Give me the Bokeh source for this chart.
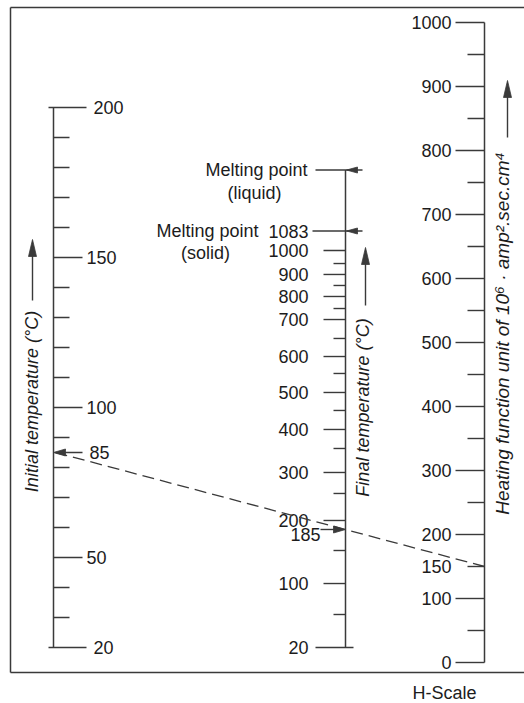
import numpy as np
from bokeh.plotting import figure
from bokeh.models import Range1d, ColumnDataSource
from bokeh.embed import file_html
from bokeh.resources import INLINE
from bokeh.core.properties import value

# ---------------- data ----------------
# Initial temperature scale (deg C), linear
INIT_TICKS = list(range(20, 201, 10))
INIT_LABELS = [20, 50, 100, 150, 200]
INIT_MARK = 85

# Final temperature scale (deg C): tick values and the heating-function level
# they line up with (read from the picture)
FINAL_TICKS = [20, 50, 100, 150, 200, 250, 300, 350, 400, 450, 500,
               550, 600, 650, 700, 750, 800, 850, 900, 950, 1000]
FINAL_LEVEL = [23.4, 75.0, 123.4, 175.0, 221.9, 264.1, 296.9, 334.4, 364.1, 393.8, 421.9,
               451.6, 478.1, 506.3, 535.9, 553.1, 571.9, 589.1, 606.3, 623.4, 643.8]
FINAL_LABELS = [20, 100, 200, 300, 400, 500, 600, 700, 800, 900, 1000]
FINAL_SOLID = 1083
FINAL_SOLID_LEVEL = 674.2
FINAL_LIQUID_LEVEL = 769.5
FINAL_MARK = 185

# H scale (10^6 amp^2 sec cm^4), linear
H_TICKS = list(range(0, 1001, 50))
H_LABELS = [0, 100, 150, 200, 300, 400, 500, 600, 700, 800, 900, 1000]
H_MARK = 150

# ---------------- layout ----------------
W, HGT = 524, 703
PXU = 0.64          # pixels per H unit
H0_PAGE_Y = 662     # picture y of H = 0


def u(py):
    """picture pixel y -> H units"""
    return (H0_PAGE_Y - py) / PXU


def px(d):
    """vertical pixel distance -> H units"""
    return d / PXU


XI, XF, XH = 53, 345, 484
INIT_LO, INIT_HI = u(647), u(107)


def init_level(t):
    return INIT_LO + (np.asarray(t, dtype=float) - 20) * (INIT_HI - INIT_LO) / 180.0


def final_level(t):
    return np.interp(t, FINAL_TICKS + [FINAL_SOLID], FINAL_LEVEL + [FINAL_SOLID_LEVEL])


LINE = "#3a3a3a"
TXT = "#1c1c1c"
FONT = value("Liberation Sans")
FS = "18px"

p = figure(width=W, height=HGT, x_range=Range1d(0, W),
           y_range=Range1d(u(HGT), u(0)),
           x_axis_type=None, y_axis_type=None,
           output_backend="svg", toolbar_location=None, min_border=0)
p.grid.visible = False
p.outline_line_color = None
p.background_fill_color = "white"
p.border_fill_color = "white"


def segs(x0, y0, x1, y1, width=1.4, color=LINE, dash="solid"):
    p.segment(x0=x0, y0=y0, x1=x1, y1=y1, line_color=color, line_width=width,
              line_dash=dash)


def texts(x, y, t, align="left", baseline="middle", angle=0.0, style="normal", size=FS):
    src = ColumnDataSource(dict(x=list(x), y=list(y), t=list(t)))
    p.text(x="x", y="y", text="t", source=src, text_font=FONT, text_font_size=size,
           text_color=TXT, text_align=align, text_baseline=baseline, angle=angle,
           text_font_style=style)


def head(xt, yt, direction, length, width):
    """arrowhead polygon with tip at (xt, yt) in data coords; length/width in px"""
    if direction == "left":
        xs = [xt, xt + length, xt + length]
        ys = [yt, yt + px(width / 2), yt - px(width / 2)]
    elif direction == "right":
        xs = [xt, xt - length, xt - length]
        ys = [yt, yt + px(width / 2), yt - px(width / 2)]
    else:  # up
        xs = [xt, xt - width / 2, xt + width / 2]
        ys = [yt, yt - px(length), yt - px(length)]
    p.patch(xs, ys, fill_color=LINE, line_color=LINE, line_width=0.8)


# ---- frame border ----
segs([10, 10, 10], [u(7), u(7), u(672)], [10, W, W], [u(672), u(7), u(672)], width=1.5)

# ---- initial temperature scale ----
segs([XI], [init_level(20)], [XI], [init_level(200)], width=1.5)
x0s, x1s, ys = [], [], []
for t in INIT_TICKS:
    if t in (20, 200):
        x0s.append(XI - 5); x1s.append(XI + 33)
    elif t in INIT_LABELS:
        x0s.append(XI); x1s.append(XI + 29)
    else:
        x0s.append(XI); x1s.append(XI + 16)
    ys.append(float(init_level(t)))
segs(x0s, ys, x1s, ys)
texts([XI + 40 if t in (20, 200) else XI + 33 for t in INIT_LABELS],
      [float(init_level(t)) for t in INIT_LABELS],
      [str(t) for t in INIT_LABELS])
ym = float(init_level(INIT_MARK))
segs([XI + 10], [ym], [XI + 29], [ym])
head(XI, ym, "left", 12, 7)
texts([XI + 36], [ym], [str(INIT_MARK)])

# ---- final temperature scale ----
segs([XF], [final_level(20)], [XF], [FINAL_LIQUID_LEVEL], width=1.5)
x0s, x1s, ys = [], [], []
for t in FINAL_TICKS:
    if t == 20:
        x0s.append(XF - 30); x1s.append(XF + 8)
    elif t in FINAL_LABELS:
        x0s.append(XF - 22); x1s.append(XF)
    else:
        x0s.append(XF - 12); x1s.append(XF)
    ys.append(float(final_level(t)))
segs(x0s, ys, x1s, ys)
texts([XF - 37] * len(FINAL_LABELS), [float(final_level(t)) for t in FINAL_LABELS],
      [str(t) for t in FINAL_LABELS], align="right")
# melting points
segs([XF - 33, XF - 30], [FINAL_SOLID_LEVEL, FINAL_LIQUID_LEVEL],
     [XF + 17, XF + 17], [FINAL_SOLID_LEVEL, FINAL_LIQUID_LEVEL])
head(XF + 1, FINAL_SOLID_LEVEL, "left", 11, 6)
head(XF + 1, FINAL_LIQUID_LEVEL, "left", 11, 6)
texts([XF - 37], [FINAL_SOLID_LEVEL], [str(FINAL_SOLID)], align="right")
texts([XF - 38, XF - 87], [FINAL_LIQUID_LEVEL, FINAL_SOLID_LEVEL],
      ["Melting point", "Melting point"], align="right")
texts([XF - 91, XF - 140], [FINAL_LIQUID_LEVEL - px(23), FINAL_SOLID_LEVEL - px(22)],
      ["(liquid)", "(solid)"], align="center")
# 185 marker
yf = float(final_level(FINAL_MARK))
segs([XF - 25], [yf], [XF - 11], [yf])
head(XF, yf, "right", 12, 7)
texts([XF - 25], [yf - px(5)], [str(FINAL_MARK)], align="right")

# ---- H scale ----
segs([XH], [0], [XH], [1000], width=1.5)
x0s, x1s, ys = [], [], []
for t in H_TICKS:
    x0s.append(XH - 29 if t % 100 == 0 else XH - 17)
    x1s.append(XH)
    ys.append(t)
segs(x0s, ys, x1s, ys)
texts([XH - 33] * len(H_LABELS), H_LABELS, [str(t) for t in H_LABELS], align="right")

# ---- reading line (85 -> 185 -> 150) ----
segs([XI + 2], [ym], [XH], [H_MARK], width=1.3, dash="12 6")

# ---- axis titles with arrows ----
ang = np.pi / 2
texts([31], [u(401)], ["Initial temperature (°C)"], align="center", angle=ang, style="italic")
segs([32], [u(300)], [32], [u(250)], width=1.4)
head(32, u(239), "up", 17, 8)

texts([362], [u(407)], ["Final temperature (°C)"], align="center", angle=ang, style="italic")
segs([365], [u(305)], [365], [u(258)], width=1.4)
head(365, u(247), "up", 17, 8)

texts([502], [u(333)], ["Heating function unit of 10⁶ · amp².sec.cm⁴"], align="center",
      angle=ang, style="italic", size="19px")
segs([507], [u(137)], [507], [u(90)], width=1.4)
head(507, u(80), "up", 17, 8)

texts([444], [u(692)], ["H-Scale"], align="center")

open("out.html", "w").write(file_html(p, INLINE))
